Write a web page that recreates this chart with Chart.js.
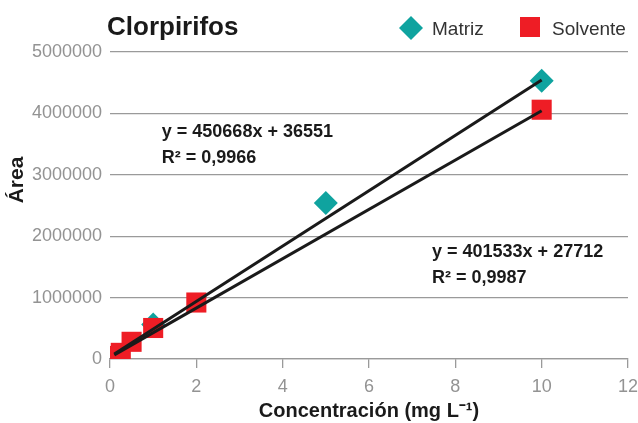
<!DOCTYPE html>
<html lang="es">
<head>
<meta charset="UTF-8">
<title>Clorpirifos</title>
<script src="https://cdn.jsdelivr.net/npm/chart.js@4.4.1/dist/chart.umd.min.js"></script>
<style>
  html, body { margin: 0; padding: 0; background: #fff; }
</style>
</head>
<body>
<canvas id="chart" width="638" height="423"></canvas>
<script>
// Datos (solo los puntos visibles)
const concMatriz = [1, 5, 10];
const areaMatriz = [560000, 2540000, 4530000];

const concSolvente = [0.1, 0.25, 0.5, 1, 2, 10];
const areaSolvente = [50000, 100000, 280000, 505000, 920000, 4060000];

// Rectas de calibración (pendiente, ordenada)
const fitMatriz = [450668, 36551];
const fitSolvente = [401533, 27712];
const fitRange = [0.1, 10];

const eqMatriz = ['y = 450668x + 36551', 'R² = 0,9966'];
const eqSolvente = ['y = 401533x + 27712', 'R² = 0,9987'];

const xTicks = [0, 2, 4, 6, 8, 10, 12];
const yTicks = [0, 1000000, 2000000, 3000000, 4000000, 5000000];

const TEAL = '#0fa39f';
const RED = '#ee1d25';
const FONT = '"Liberation Sans", Arial, Helvetica, sans-serif';

const toPoints = (xs, ys) => xs.map((x, i) => ({ x: x, y: ys[i] }));
const fitLine = (fit) => fitRange.map(x => ({ x: x, y: fit[0] * x + fit[1] }));

// Título, leyenda, etiqueta del eje Y y ecuaciones
const decor = {
  id: 'decor',
  afterDraw(chart) {
    const ctx = chart.ctx;
    const xs = chart.scales.x, ys = chart.scales.y;
    ctx.save();

    ctx.fillStyle = '#1a1a1a';
    ctx.font = 'bold 26px ' + FONT;
    ctx.textBaseline = 'alphabetic';
    ctx.textAlign = 'left';
    ctx.fillText('Clorpirifos', 107, 35);

    // leyenda
    ctx.fillStyle = TEAL;
    ctx.beginPath();
    ctx.moveTo(411, 16); ctx.lineTo(423, 28); ctx.lineTo(411, 40); ctx.lineTo(399, 28);
    ctx.closePath();
    ctx.fill();
    ctx.fillStyle = RED;
    ctx.fillRect(520, 17, 20, 20);
    ctx.fillStyle = '#333';
    ctx.font = '19px ' + FONT;
    ctx.fillText('Matriz', 432, 35);
    ctx.fillText('Solvente', 552, 35);

    // eje Y
    ctx.save();
    ctx.translate(17, 180);
    ctx.rotate(-Math.PI / 2);
    ctx.textAlign = 'center';
    ctx.textBaseline = 'middle';
    ctx.fillStyle = '#1a1a1a';
    ctx.font = 'bold 21px ' + FONT;
    ctx.fillText('Área', 0, 0);
    ctx.restore();

    // ecuaciones
    ctx.fillStyle = '#1a1a1a';
    ctx.font = 'bold 18px ' + FONT;
    const drawEq = (lines, x, y) => {
      const px = xs.getPixelForValue(x), py = ys.getPixelForValue(y);
      lines.forEach((t, i) => ctx.fillText(t, px, py + i * 26));
    };
    drawEq(eqMatriz, 1.2, 3620000);
    drawEq(eqSolvente, 7.46, 1660000);

    ctx.restore();
  }
};

new Chart(document.getElementById('chart'), {
  type: 'scatter',
  data: {
    datasets: [
      {
        label: 'Tendencia Matriz',
        type: 'line',
        data: fitLine(fitMatriz),
        borderColor: '#1a1a1a',
        borderWidth: 3,
        pointRadius: 0,
        order: 0
      },
      {
        label: 'Tendencia Solvente',
        type: 'line',
        data: fitLine(fitSolvente),
        borderColor: '#1a1a1a',
        borderWidth: 3,
        pointRadius: 0,
        order: 0
      },
      {
        label: 'Solvente',
        data: toPoints(concSolvente, areaSolvente),
        pointStyle: 'rect',
        pointRadius: 14.2,
        backgroundColor: RED,
        borderColor: RED,
        borderWidth: 0,
        order: 1
      },
      {
        label: 'Matriz',
        data: toPoints(concMatriz, areaMatriz),
        pointStyle: 'rectRot',
        pointRadius: 12,
        backgroundColor: TEAL,
        borderColor: TEAL,
        borderWidth: 0,
        order: 2
      }
    ]
  },
  options: {
    responsive: false,
    animation: false,
    layout: { autoPadding: false, padding: { top: 52, right: 10, left: 0, bottom: 0 } },
    plugins: {
      legend: { display: false },
      title: { display: false },
      tooltip: { enabled: false }
    },
    scales: {
      x: {
        type: 'linear',
        min: 0,
        max: 12,
        afterBuildTicks: s => { s.ticks = xTicks.map(v => ({ value: v })); },
        afterFit: s => { s.height = 64; s.paddingRight = 0; s.paddingLeft = 0; },
        ticks: { color: '#939393', font: { family: FONT, size: 18 }, padding: 8 },
        grid: { drawOnChartArea: false, drawTicks: true, tickLength: 9, color: '#9a9a9a', lineWidth: 1.3 },
        border: { display: true, color: '#9a9a9a', width: 1.3 },
        title: {
          display: true,
          text: 'Concentración (mg L⁻¹)',
          color: '#1a1a1a',
          font: { family: FONT, size: 20, weight: 'bold' },
          padding: { top: 0, bottom: 0 }
        }
      },
      y: {
        min: 0,
        max: 5000000,
        afterBuildTicks: s => { s.ticks = yTicks.map(v => ({ value: v })); },
        afterFit: s => { s.width = 110; s.paddingTop = 0; s.paddingBottom = 0; },
        ticks: { color: '#939393', font: { family: FONT, size: 18 }, padding: 8, callback: v => String(v) },
        grid: { drawTicks: false, color: '#9a9a9a', lineWidth: 1.3 },
        border: { display: false }
      }
    }
  },
  plugins: [decor]
});
</script>
</body>
</html>
